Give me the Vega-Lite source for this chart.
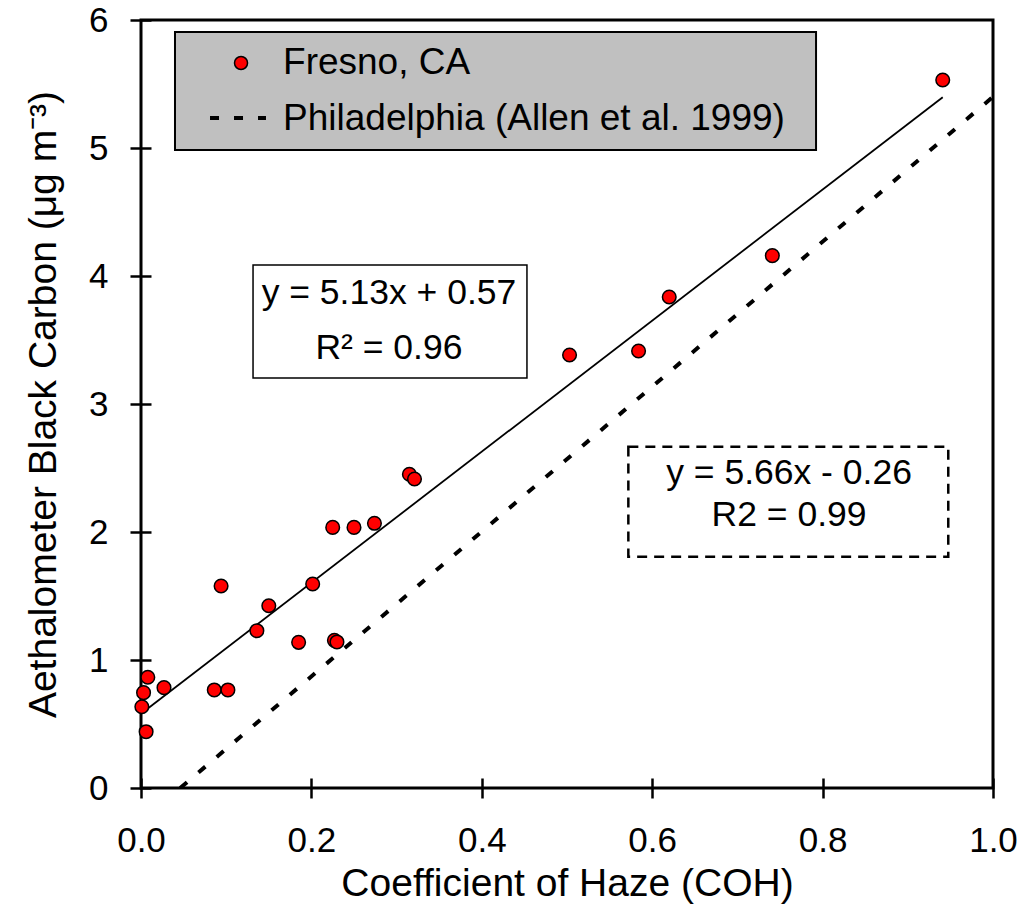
{
  "$schema": "https://vega.github.io/schema/vega-lite/v6.json",
  "autosize": {"type": "none"},
  "width": 852,
  "height": 768,
  "padding": {"left": 141, "top": 20, "right": 27, "bottom": 118},
  "background": "white",
  "config": {
    "font": "Liberation Sans",
    "view": {"stroke": "black", "strokeWidth": 3},
    "axis": {
      "grid": false,
      "domain": false,
      "labelFont": "Liberation Sans",
      "labelFontSize": 35,
      "labelColor": "black",
      "labelFlush": false,
      "labelOverlap": false,
      "titleFont": "Liberation Sans",
      "titleFontSize": 39,
      "titleFontWeight": "normal",
      "titleColor": "black",
      "tickColor": "black",
      "tickWidth": 2.5,
      "offset": -10
    }
  },
  "datasets": {
    "points": [
      {"coh": 0.001, "bc": 0.635},
      {"coh": 0.003, "bc": 0.745},
      {"coh": 0.008, "bc": 0.865},
      {"coh": 0.006, "bc": 0.44},
      {"coh": 0.027, "bc": 0.784},
      {"coh": 0.086, "bc": 0.766},
      {"coh": 0.102, "bc": 0.766},
      {"coh": 0.136, "bc": 1.229},
      {"coh": 0.150, "bc": 1.424},
      {"coh": 0.185, "bc": 1.138},
      {"coh": 0.227, "bc": 1.154},
      {"coh": 0.230, "bc": 1.141},
      {"coh": 0.094, "bc": 1.578},
      {"coh": 0.2015, "bc": 1.594},
      {"coh": 0.225, "bc": 2.036},
      {"coh": 0.250, "bc": 2.036},
      {"coh": 0.274, "bc": 2.068},
      {"coh": 0.315, "bc": 2.451},
      {"coh": 0.321, "bc": 2.414},
      {"coh": 0.503, "bc": 3.383},
      {"coh": 0.584, "bc": 3.414},
      {"coh": 0.620, "bc": 3.836},
      {"coh": 0.741, "bc": 4.159},
      {"coh": 0.941, "bc": 5.531}
    ],
    "fresnoFit": [
      {"coh": 0.0, "bc": 0.58},
      {"coh": 0.941, "bc": 5.397}
    ],
    "phillyFit": [
      {"coh": 0.046, "bc": 0.0},
      {"coh": 1.0, "bc": 5.40}
    ],
    "legendBox": [
      {"x1": 0.0399, "x2": 0.7923, "y1": 5.906, "y2": 4.984}
    ],
    "legendSymbol": [
      {"coh": 0.1174, "bc": 5.664}
    ],
    "legendDash": [
      {"coh": 0.081, "bc": 5.234},
      {"coh": 0.1467, "bc": 5.234}
    ],
    "legendText": [
      {"coh": 0.1667, "bc": 5.664, "label": "Fresno, CA"},
      {"coh": 0.1667, "bc": 5.225, "label": "Philadelphia (Allen et al. 1999)"}
    ],
    "eqBox1": [
      {"x1": 0.1315, "x2": 0.453, "y1": 4.086, "y2": 3.203}
    ],
    "eqBox2": [
      {"x1": 0.572, "x2": 0.9475, "y1": 2.666, "y2": 1.807}
    ],
    "eqText": [
      {"coh": 0.291, "bc": 3.87, "label": "y = 5.13x + 0.57"},
      {"coh": 0.291, "bc": 3.4375, "label": "R² = 0.96"},
      {"coh": 0.7606, "bc": 2.461, "label": "y = 5.66x - 0.26"},
      {"coh": 0.7606, "bc": 2.133, "label": "R2 = 0.99"}
    ]
  },
  "layer": [
    {
      "data": {"name": "eqBox1"},
      "mark": {"type": "rect", "fill": "white", "stroke": "black", "strokeWidth": 1.5},
      "encoding": {
        "x": {"field": "x1", "type": "quantitative", "scale": {"domain": [0, 1], "nice": false}, "axis": {"values": [0, 0.2, 0.4, 0.6, 0.8, 1.0], "format": ".1f", "tickSize": 20, "labelPadding": 25, "titlePadding": 6}, "title": "Coefficient of Haze (COH)"},
        "x2": {"field": "x2"},
        "y": {"field": "y1", "type": "quantitative", "scale": {"domain": [0, 6], "nice": false}, "axis": {"values": [0, 1, 2, 3, 4, 5, 6], "format": "d", "tickSize": 21, "labelPadding": 22, "titlePadding": 25}, "title": "Aethalometer Black Carbon (μg m⁻³)"},
        "y2": {"field": "y2"}
      }
    },
    {
      "data": {"name": "eqBox2"},
      "mark": {"type": "rect", "fill": "white", "stroke": "black", "strokeWidth": 2.5, "strokeDash": [10, 7]},
      "encoding": {
        "x": {"field": "x1", "type": "quantitative", "title": "Coefficient of Haze (COH)"},
        "x2": {"field": "x2"},
        "y": {"field": "y1", "type": "quantitative", "title": "Aethalometer Black Carbon (μg m⁻³)"},
        "y2": {"field": "y2"}
      }
    },
    {
      "data": {"name": "fresnoFit"},
      "mark": {"type": "line", "color": "black", "strokeWidth": 1.8},
      "encoding": {
        "x": {"field": "coh", "type": "quantitative", "title": "Coefficient of Haze (COH)"},
        "y": {"field": "bc", "type": "quantitative", "title": "Aethalometer Black Carbon (μg m⁻³)"}
      }
    },
    {
      "data": {"name": "phillyFit"},
      "mark": {"type": "line", "color": "black", "strokeWidth": 4, "strokeDash": [9, 15], "clip": true},
      "encoding": {
        "x": {"field": "coh", "type": "quantitative", "title": "Coefficient of Haze (COH)"},
        "y": {"field": "bc", "type": "quantitative", "title": "Aethalometer Black Carbon (μg m⁻³)"}
      }
    },
    {
      "data": {"name": "points"},
      "mark": {"type": "point", "shape": "circle", "filled": true, "fill": "#FF0000", "stroke": "black", "strokeWidth": 1.5, "size": 185, "opacity": 1},
      "encoding": {
        "x": {"field": "coh", "type": "quantitative", "title": "Coefficient of Haze (COH)"},
        "y": {"field": "bc", "type": "quantitative", "title": "Aethalometer Black Carbon (μg m⁻³)"}
      }
    },
    {
      "data": {"name": "legendBox"},
      "mark": {"type": "rect", "fill": "#C0C0C0", "stroke": "black", "strokeWidth": 2},
      "encoding": {
        "x": {"field": "x1", "type": "quantitative", "title": "Coefficient of Haze (COH)"},
        "x2": {"field": "x2"},
        "y": {"field": "y1", "type": "quantitative", "title": "Aethalometer Black Carbon (μg m⁻³)"},
        "y2": {"field": "y2"}
      }
    },
    {
      "data": {"name": "legendSymbol"},
      "mark": {"type": "point", "shape": "circle", "filled": true, "fill": "#FF0000", "stroke": "black", "strokeWidth": 1.5, "size": 170, "opacity": 1},
      "encoding": {
        "x": {"field": "coh", "type": "quantitative", "title": "Coefficient of Haze (COH)"},
        "y": {"field": "bc", "type": "quantitative", "title": "Aethalometer Black Carbon (μg m⁻³)"}
      }
    },
    {
      "data": {"name": "legendDash"},
      "mark": {"type": "line", "color": "black", "strokeWidth": 4, "strokeDash": [9, 15]},
      "encoding": {
        "x": {"field": "coh", "type": "quantitative", "title": "Coefficient of Haze (COH)"},
        "y": {"field": "bc", "type": "quantitative", "title": "Aethalometer Black Carbon (μg m⁻³)"}
      }
    },
    {
      "data": {"name": "legendText"},
      "mark": {"type": "text", "align": "left", "baseline": "middle", "fontSize": 37, "font": "Liberation Sans", "color": "black"},
      "encoding": {
        "x": {"field": "coh", "type": "quantitative", "title": "Coefficient of Haze (COH)"},
        "y": {"field": "bc", "type": "quantitative", "title": "Aethalometer Black Carbon (μg m⁻³)"},
        "text": {"field": "label"}
      }
    },
    {
      "data": {"name": "eqText"},
      "mark": {"type": "text", "align": "center", "baseline": "middle", "fontSize": 35.5, "font": "Liberation Sans", "color": "black"},
      "encoding": {
        "x": {"field": "coh", "type": "quantitative", "title": "Coefficient of Haze (COH)"},
        "y": {"field": "bc", "type": "quantitative", "title": "Aethalometer Black Carbon (μg m⁻³)"},
        "text": {"field": "label"}
      }
    }
  ]
}
